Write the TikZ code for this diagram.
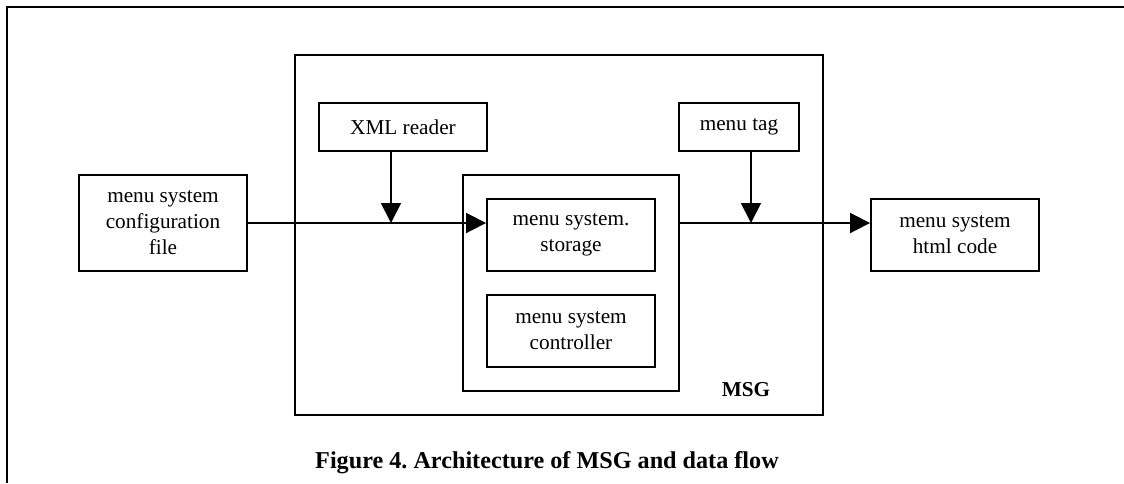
\documentclass[tikz,border=0pt]{standalone}
\usepackage{fontspec}
\setmainfont{Liberation Serif}
\usetikzlibrary{positioning, arrows.meta}

\tikzset{
  blk/.style={draw, line width=1.3pt, inner sep=0pt, align=center,
              font=\fontsize{15.1}{18.5}\selectfont},
  flow/.style={line width=1.3pt, -{Triangle[length=0.5cm, width=0.5cm]}},
  plain/.style={line width=1.3pt}
}

\begin{document}
\frenchspacing
\begin{tikzpicture}[x=0.025cm, y=-0.025cm]
        % Page is 1124 x 483 units, y pointing down.
        \useasboundingbox (0, 0) rectangle (1124, 483);
        \draw[plain] (7, 483) -- (7, 7) -- (1124, 7);

        % ── MSG frame and its inner block ──────────────────────────────
        \node[blk, minimum width=13.2cm, minimum height=9cm] (msg) at (559, 235) {};
        \node[blk, minimum width=5.4cm, minimum height=5.4cm] (core) at (571, 283) {};
        \node[blk, minimum width=4.2cm, minimum height=1.8cm] (store) at (571, 235)
              {menu system.\\storage};
        \node[blk, minimum width=4.2cm, minimum height=1.8cm] (ctrl) at (571, 331)
              {menu system\\controller};
        \node[blk, minimum width=4.2cm, minimum height=1.2cm] (xml) at (403, 127)
              {XML reader};
        \node[blk, minimum width=3cm, minimum height=1.2cm] (tag) at (739, 127)
              {menu tag};
        \node[font=\fontsize{15.1}{18.5}\selectfont\bfseries] (msglbl) at (746, 390) {MSG};

        % ── input and output ───────────────────────────────────────────
        \node[blk, minimum width=4.2cm, minimum height=2.4cm] (cfg) at (163, 223)
              {menu system\\configuration\\file};
        \node[blk, minimum width=4.2cm, minimum height=1.8cm] (html) at (955, 235)
              {menu system\\html code};

        % ── data flow ──────────────────────────────────────────────────
        \coordinate (xin) at (391, 223);
        \coordinate (tin) at (751, 223);
        \draw[flow] (cfg.east) -- (cfg.east -| store.west);
        \draw[flow] (cfg.east -| core.east) -- (cfg.east -| html.west);
        \draw[flow] (xml.south -| xin) -- (xin);
        \draw[flow] (tag.south -| tin) -- (tin);

        % ── caption ────────────────────────────────────────────────────
        \node[font=\fontsize{17.2}{20}\selectfont\bfseries] (cap) at (547, 463)
              {Figure 4. Architecture of MSG and data flow};
      \end{tikzpicture}
\end{document}
